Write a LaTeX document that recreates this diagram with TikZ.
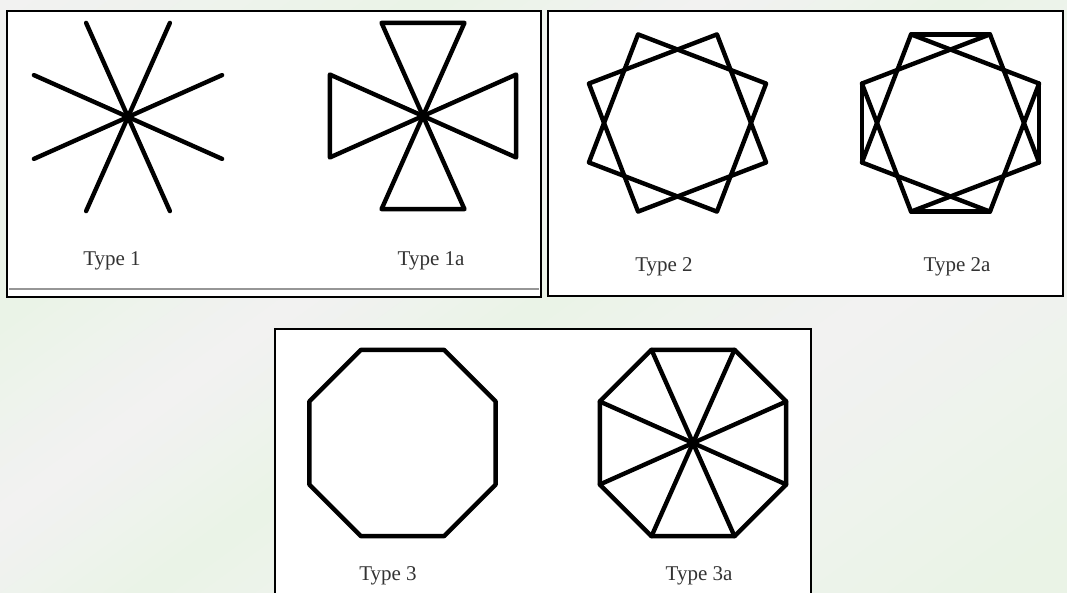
\documentclass[tikz,border=0pt]{standalone}
\usepackage{fontspec}
\setmainfont{Liberation Serif}
\usetikzlibrary{calc}

\definecolor{bggreen}{RGB}{234,243,230}
\definecolor{bggrey}{RGB}{242,242,242}
\definecolor{rulegrey}{RGB}{150,150,150}

\tikzset{
	panel/.style={draw=black, line width=2.2pt},
	figline/.style={line width=4.4pt, line join=round, line cap=round},
	typelabel/.style={anchor=base, text=black!80, font=\fontsize{21}{25}\selectfont},
}

\begin{document}
\begin{tikzpicture}[x=1pt, y=-1pt]
		\useasboundingbox (0,0) rectangle (1067,593);

		% background stripes
		\begin{scope}
			\clip (0,0) rectangle (1067,593);
			\fill[bggrey] (0,0) rectangle (1067,593);
			\begin{scope}[rotate=-54]
				\foreach \da/\pa/\db/\pb in {0/0/258/100, 258/100/420/0, 420/0/565/100, 565/100/760/0, 760/0/1050/100, 1050/100/1300/100} {
					\foreach \k in {0,...,11} {
						\pgfmathsetmacro\dl{\da+(\db-\da)*\k/12}
						\pgfmathsetmacro\dr{\da+(\db-\da)*(\k+1)/12}
						\pgfmathtruncatemacro\pp{\pa+(\pb-\pa)*(\k+0.5)/12}
						\fill[bggreen!\pp!bggrey] (\dl-0.5,-1500) rectangle (\dr+0.5,1500);
					}
				}
			\end{scope}
		\end{scope}

		% panels
		\filldraw[panel, fill=white] (7,11) rectangle (541,297);
		\draw[rulegrey, line width=1.3pt] (9,289) -- (539,289);
		\filldraw[panel, fill=white] (548,11) rectangle (1063,296);
		\fill[white] (275,329) rectangle (811,593);
		\draw[panel] (275,595) |- (811,329) -- (811,595);

		% Type 1
		\coordinate (c1) at (128,117);
		\foreach \a in {24,66,114,156,204,246,294,336}
			\draw[figline] (c1) -- ++(\a:103);
		\node[typelabel] (lab1) at (112,266) {Type 1};

		% Type 1a
		\coordinate (c1a) at (423,116);
		\foreach \a [count=\i] in {24,66,114,156,204,246,294,336}
			\coordinate (a\i) at ($(c1a)+(\a:102)$);
		\foreach \p/\q in {2/3,4/5,6/7,8/1}
			\draw[figline] (c1a) -- (a\p) -- (a\q) -- cycle;
		\node[typelabel] (lab1a) at (431,266) {Type 1a};

		% Type 2
		\coordinate (c2) at (677.5,123);
		\foreach \a [count=\i] in {24,66,114,156,204,246,294,336}
			\coordinate (b\i) at ($(c2)+(\a:97)$);
		\draw[figline] (b1) -- (b3) -- (b5) -- (b7) -- cycle;
		\draw[figline] (b2) -- (b4) -- (b6) -- (b8) -- cycle;
		\node[typelabel] (lab2) at (664,272) {Type 2};

		% Type 2a
		\coordinate (c2a) at (950.5,123);
		\foreach \a [count=\i] in {24,66,114,156,204,246,294,336}
			\coordinate (d\i) at ($(c2a)+(\a:97)$);
		\draw[figline] (d1) -- (d3) -- (d5) -- (d7) -- cycle;
		\draw[figline] (d2) -- (d4) -- (d6) -- (d8) -- cycle;
		\foreach \p/\q in {2/3,4/5,6/7,8/1}
			\draw[figline] (d\p) -- (d\q);
		\node[typelabel] (lab2a) at (957,272) {Type 2a};

		% Type 3
		\coordinate (c3) at (402.5,443);
		\foreach \a [count=\i] in {24,66,114,156,204,246,294,336}
			\coordinate (e\i) at ($(c3)+(\a:102)$);
		\draw[figline] (e1) -- (e2) -- (e3) -- (e4) -- (e5) -- (e6) -- (e7) -- (e8) -- cycle;
		\node[typelabel] (lab3) at (388,580) {Type 3};

		% Type 3a
		\coordinate (c3a) at (693,443);
		\foreach \a [count=\i] in {24,66,114,156,204,246,294,336}
			\coordinate (f\i) at ($(c3a)+(\a:102)$);
		\draw[figline] (f1) -- (f2) -- (f3) -- (f4) -- (f5) -- (f6) -- (f7) -- (f8) -- cycle;
		\foreach \i in {1,...,8}
			\draw[figline] (c3a) -- (f\i);
		\node[typelabel] (lab3a) at (699,580) {Type 3a};

	\end{tikzpicture}
\end{document}
